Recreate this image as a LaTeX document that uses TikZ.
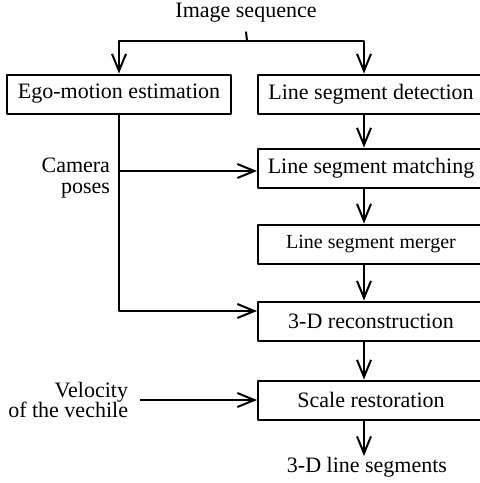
\documentclass[tikz,border=0pt]{standalone}
\usepackage{fontspec}
\setmainfont{Liberation Serif}
\usetikzlibrary{arrows.meta,positioning}

\begin{document}
\begin{tikzpicture}[>={Straight Barb[length=17pt,width=14pt]},x=1pt,y=-1pt,line width=2pt,line join=round,
        box/.style={draw,minimum height=39pt,inner sep=0pt,font=\fontsize{22}{22}\selectfont},
        lbl/.style={inner sep=0pt,align=right,font=\fontsize{22}{20.5}\selectfont}]
        \useasboundingbox (0,0) rectangle (480,483);
        \clip (0,0) rectangle (480,483);
        \def\xl{257} \def\wr{226pt}
        \coordinate (col) at (364,0);
        \coordinate (split) at (247,41);
        %\draw[line width=0.1pt,dashed] (0,0) grid[step=20] (480,483);
        \node[lbl,align=center] (seq) at (246,13) {Image sequence};
        \node[box,minimum width=224pt] (ego) at (119,94) {Ego-motion estimation};
        \node[box,minimum width=\wr,anchor=west] (det) at (\xl,94) {Line segment detection};
        \node[box,minimum width=\wr,anchor=west] (match) at (\xl,168) {Line segment matching};
        \node[box,minimum width=\wr,anchor=west,font=\fontsize{20}{20}\selectfont] (merge) at (\xl,244) {Line segment merger};
        \node[box,minimum width=\wr,anchor=west] (recon) at (\xl,321) {3-D reconstruction};
        \node[box,minimum width=\wr,anchor=west] (scale) at (\xl,400) {Scale restoration};
        \node[lbl,anchor=east] (poses) at (111,178) {Camera\\poses};
        \node[lbl,anchor=east] (vel) at (129,400) {Velocity\\of the vechile};
        \node[lbl,align=center] (out) at (367,467) {3-D line segments};
        % image sequence splits into both branches
        \draw ([yshift=-8pt]seq.south) -- (split);
        \draw[->] (split) -| (ego.north);
        \draw[->] (split) -| (det.north -| col);
        % right column
        \draw[->] (det.south -| col) -- (match.north -| col);
        \draw[->] (match.south -| col) -- (merge.north -| col);
        \draw[->] (merge.south -| col) -- (recon.north -| col);
        \draw[->] (recon.south -| col) -- (scale.north -| col);
        \draw[->] (scale.south -| col) -- (out.north -| col);
        % camera poses
        \draw[->] (ego.south) |- ([yshift=10pt]recon.west);
        \draw[->] ([yshift=-3pt]match.west -| ego.south) -- ([yshift=-3pt]match.west);
        \draw[->] ([xshift=11pt]vel.east) -- (scale.west);
    \end{tikzpicture}
\end{document}
